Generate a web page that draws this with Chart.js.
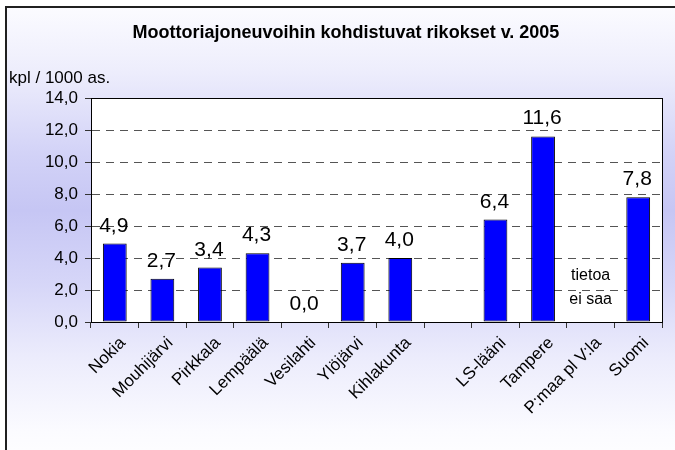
<!DOCTYPE html>
<html lang="fi">
<head>
    <meta charset="UTF-8">
    <title>Moottoriajoneuvoihin kohdistuvat rikokset v. 2005</title>
    <script src="https://cdn.jsdelivr.net/npm/chart.js"></script>
    <style>
        html, body { margin: 0; padding: 0; background: #ffffff; overflow: hidden; }
        #frame {
            position: absolute; left: 5px; top: 6px; width: 700px; height: 460px;
            border-left: 2px solid #202020; border-top: 2px solid #202020;
            background: linear-gradient(to bottom, #fbfbff 0%, #ededfc 14%, #d2d2f7 32%, #c6c6f4 44%, #d6d6f8 60%, #ececfc 76%, #fbfbff 92%, #ffffff 100%);
        }
        #chart { position: absolute; left: 0; top: 0; }
    </style>
</head>
<body>
<div id="frame"></div>
<canvas id="chart" width="675" height="450"></canvas>
<script>
    // data
    var categories = ['Nokia', 'Mouhijärvi', 'Pirkkala', 'Lempäälä', 'Vesilahti', 'Ylöjärvi', 'Kihlakunta', '', 'LS-lääni', 'Tampere', 'P:maa pl V:la', 'Suomi'];
    var values = [4.9, 2.7, 3.4, 4.3, 0.0, 3.7, 4.0, null, 6.4, 11.6, null, 7.8];
    var yTicks = [0, 2, 4, 6, 8, 10, 12, 14];
    var chartTitle = 'Moottoriajoneuvoihin kohdistuvat rikokset v. 2005';
    var yCaption = 'kpl / 1000 as.';
    var noteLines = ['tietoa', 'ei saa'];
    var noteCategory = 10;
    var noteValues = [2.9, 1.4];

    function fmt(v) {
        return v.toFixed(1).replace('.', ',');
    }

    var FONT = '"Liberation Sans", Arial, sans-serif';

    // white plot area + outer box
    var plotArea = {
        id: 'plotArea',
        beforeDraw: function (chart) {
            var a = chart.chartArea, ctx = chart.ctx;
            ctx.save();
            ctx.fillStyle = '#ffffff';
            ctx.fillRect(a.left, a.top, a.right - a.left, a.bottom - a.top);
            ctx.restore();
        },
        afterDraw: function (chart) {
            var a = chart.chartArea, ctx = chart.ctx;
            ctx.save();
            ctx.strokeStyle = '#000000';
            ctx.lineWidth = 1;
            ctx.strokeRect(Math.round(a.left) + 0.5, Math.round(a.top) + 0.5, Math.round(a.right - a.left), Math.round(a.bottom - a.top));
            ctx.restore();
        }
    };

    // value labels above bars
    var valueLabels = {
        id: 'valueLabels',
        afterDatasetsDraw: function (chart) {
            var ctx = chart.ctx;
            var meta = chart.getDatasetMeta(0);
            ctx.save();
            ctx.fillStyle = '#000000';
            ctx.font = '21px ' + FONT;
            ctx.textAlign = 'center';
            ctx.textBaseline = 'alphabetic';
            meta.data.forEach(function (bar, i) {
                if (values[i] === null) return;
                ctx.fillText(fmt(values[i]), bar.x - 1, bar.y - 12);
            });
            ctx.restore();
        }
    };

    // title, y caption and the note
    var texts = {
        id: 'texts',
        afterDraw: function (chart) {
            var ctx = chart.ctx;
            var xs = chart.scales.x, ys = chart.scales.y;
            ctx.save();
            ctx.fillStyle = '#000000';
            ctx.textBaseline = 'middle';
            ctx.font = 'bold 18px ' + FONT;
            ctx.textAlign = 'center';
            ctx.fillText(chartTitle, 346, 33);
            ctx.font = '17px ' + FONT;
            ctx.textAlign = 'left';
            ctx.fillText(yCaption, 9, 78);
            ctx.font = '16px ' + FONT;
            ctx.textAlign = 'center';
            noteLines.forEach(function (t, i) {
                ctx.fillText(t, xs.getPixelForValue(noteCategory), ys.getPixelForValue(noteValues[i]));
            });
            ctx.restore();
        }
    };

    new Chart(document.getElementById('chart'), {
        type: 'bar',
        data: {
            labels: categories,
            datasets: [{
                data: values,
                backgroundColor: '#0000ff',
                borderColor: '#000000',
                borderWidth: 1,
                borderSkipped: false,
                barPercentage: 0.5,
                categoryPercentage: 1.0
            }]
        },
        options: {
            responsive: false,
            animation: false,
            events: [],
            layout: { padding: { left: 0, right: 13, top: 98, bottom: 0 } },
            plugins: {
                legend: { display: false },
                tooltip: { enabled: false },
                title: { display: false }
            },
            scales: {
                x: {
                    grid: {
                        offset: true,
                        drawOnChartArea: false,
                        drawTicks: true,
                        tickLength: 6,
                        tickColor: '#333333'
                    },
                    border: { color: '#000000', width: 1 },
                    ticks: {
                        autoSkip: false,
                        minRotation: 45,
                        maxRotation: 45,
                        padding: 5,
                        labelOffset: 8,
                        color: '#000000',
                        font: { family: FONT, size: 17 }
                    },
                    afterFit: function (scale) { scale.height = 128; }
                },
                y: {
                    min: 0,
                    max: 14,
                    afterBuildTicks: function (scale) {
                        scale.ticks = yTicks.map(function (v) { return { value: v }; });
                    },
                    grid: {
                        color: '#555555',
                        lineWidth: 1,
                        tickLength: 6,
                        tickColor: '#333333'
                    },
                    border: { color: '#000000', width: 1, dash: [8, 6] },
                    ticks: {
                        padding: 7,
                        color: '#000000',
                        font: { family: FONT, size: 17 },
                        callback: function (v) { return fmt(v); }
                    },
                    afterFit: function (scale) { scale.width = 91; }
                }
            }
        },
        plugins: [plotArea, valueLabels, texts]
    });
</script>
</body>
</html>
